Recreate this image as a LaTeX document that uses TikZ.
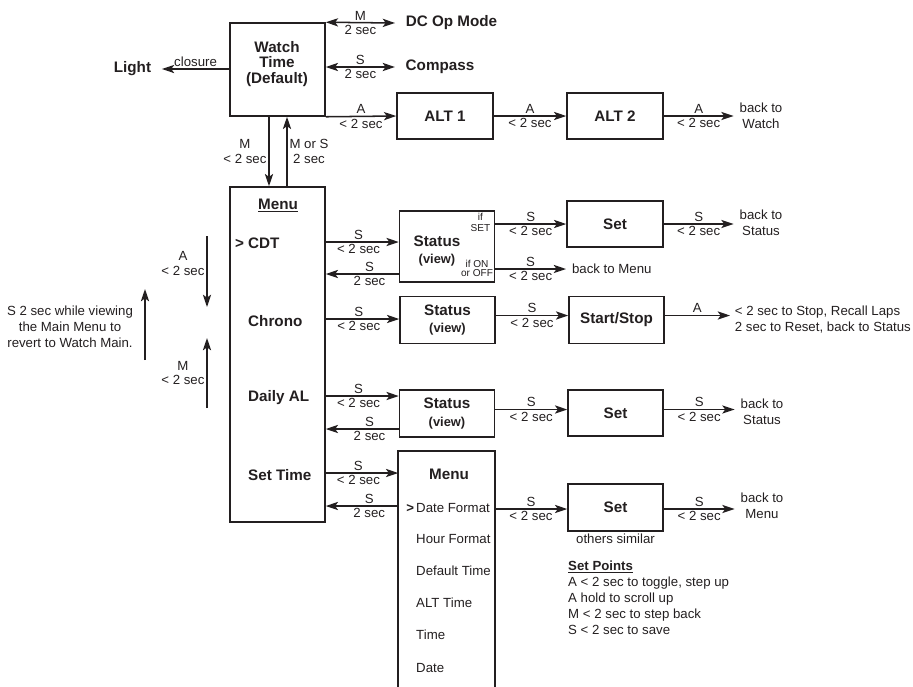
\documentclass[tikz,border=0pt]{standalone}
\usepackage{fontspec}
\setmainfont{Liberation Sans}
\usetikzlibrary{arrows.meta}
\definecolor{ink}{RGB}{35,31,32}
\newcommand\labfont{\fontsize{11.3}{12.8}\selectfont}
\newcommand\bodyfont{\fontsize{11.3}{13.6}\selectfont}
\newcommand\boldfont{\fontsize{13}{15.3}\selectfont\bfseries}
\newcommand\viewfont{\fontsize{11}{15.3}\selectfont\bfseries}
\newcommand\notefont{\fontsize{8.6}{9}\selectfont}
\tikzset{
  box/.style={draw=ink, line width=1.3pt, minimum width=2.85cm, minimum height=1.41cm, inner sep=0pt, align=center, font=\boldfont, text=ink},
  arrow/.style={-{Stealth[length=10.5pt,width=7pt,inset=2.5pt]}, line width=1.3pt, draw=ink},
  twoway/.style={{Stealth[length=10.5pt,width=7pt,inset=2.5pt]}-{Stealth[length=10.5pt,width=7pt,inset=2.5pt]}, line width=1.3pt, draw=ink},
  lbl/.style={font=\labfont, text=ink, inner sep=1.5pt},
  txt/.style={font=\bodyfont, text=ink, align=center, inner ysep=1pt, inner xsep=5pt},
  head/.style={font=\boldfont, text=ink, inner sep=0pt},
  item/.style={font=\bodyfont, text=ink, anchor=west, inner sep=0pt},
  note/.style={font=\notefont, text=ink, align=center, inner sep=0pt}
}

\begin{document}
\begin{tikzpicture}[x=0.03cm,y=-0.03cm]
\useasboundingbox (0,0) rectangle (913,686);

\node[box, minimum height=2.79cm] (watch) at (277.5,69.5) {};
\node[head, align=center, font=\fontsize{13}{13.6}\selectfont\bfseries] (watchtxt) at (277,64) {Watch\\Time\\(Default)};
\node[box, minimum width=2.88cm, minimum height=1.38cm] (alt1) at (445,116) {ALT 1};
\node[box, minimum width=2.88cm, minimum height=1.38cm] (alt2) at (615,116) {ALT 2};
\node[head, inner xsep=9pt] (light) at (132.5,69) {Light};
\node[head, inner xsep=9pt] (dcop) at (451.5,23) {DC Op Mode};
\node[head, inner xsep=9pt] (compass) at (440,67) {Compass};
\node[txt] (backw) at (761,116) {back to\\Watch};

\draw[arrow] (watch.west |- light) -- node[lbl,above]{closure} (light.east);
\draw[twoway] (watch.north east) -- node[lbl,above]{M} node[lbl,below]{2 sec} (dcop.west);
\draw[twoway] (watch.east |- compass) -- node[lbl,above]{S} node[lbl,below]{2 sec} (compass.west);
\draw[arrow] (watch.south east) -- node[lbl,above]{A} node[lbl,below]{< 2 sec} (alt1.west);
\draw[arrow] (alt1) -- node[lbl,above]{A} node[lbl,below]{< 2 sec} (alt2);
\draw[arrow] (alt2) -- node[lbl,above]{A} node[lbl,below]{< 2 sec} (backw);

\node[box, minimum height=10.05cm] (menu) at (277.5,354.5) {};
\node[head] (menuhead) at (278,205) {\underline{Menu}};
\node[head, anchor=west] (cdt) at (248,243) {\llap{> }CDT};
\node[head, anchor=west] (chrono) at (248,321) {Chrono};
\node[head, anchor=west] (daily) at (248,398) {Daily AL};
\node[head, anchor=west] (settime) at (248,475) {Set Time};

\draw[arrow] ([xshift=-0.255cm]watch.south) -- node[lbl,left,align=center]{M\\< 2 sec} ([xshift=-0.255cm]menu.north);
\draw[arrow] ([xshift=0.285cm]menu.north) -- node[lbl,right,align=center]{M or S\\2 sec} ([xshift=0.285cm]watch.south);

\coordinate (adn1) at (207,236);
\coordinate (adn2) at (207,307);
\coordinate (mup1) at (207,408);
\coordinate (mup2) at (207,338);
\coordinate (rev1) at (145,360);
\coordinate (rev2) at (145,289);
\draw[arrow] (adn1) -- node[lbl,left,align=center,pos=0.39]{A\\< 2 sec} (adn2);
\draw[arrow] (mup1) -- node[lbl,left,align=center]{M\\< 2 sec} (mup2);
\draw[arrow] (rev1) -- (rev2);
\node[txt] (revert) at (70,327) {S 2 sec while viewing\\the Main Menu to\\revert to Watch Main.};

\coordinate (cdtin) at (0,242);
\coordinate (cdtout) at (0,274);
\coordinate (cdtset) at (0,224);
\coordinate (cdtmenu) at (0,269);
\coordinate (chrin) at (0,319);
\coordinate (chrout) at (0,315.5);
\coordinate (dalin) at (0,396);
\coordinate (dalout) at (0,429);
\coordinate (dalset) at (0,409.5);
\coordinate (stin) at (0,473);
\coordinate (stout) at (0,506);
\coordinate (stset) at (0,509);

\node[box, minimum height=2.13cm] (stcdt) at (447,246.5) {};
\node[head, align=center] (stcdttxt) at (437,251) {Status\\{\viewfont(view)}};
\node[note] (ifset) at (480.5,222.5) {if\\[1pt]SET};
\node[note] (ifon) at (477,268.5) {if ON\\[-1.5pt]or OFF};
\node[box, minimum width=2.88cm, minimum height=1.38cm] (setcdt) at (615,224) {Set};
\node[txt] (backs1) at (761,222.5) {back to\\Status};
\node[txt, anchor=west] (backm1) at (566,269) {back to Menu};

\draw[arrow] (menu.east |- cdtin) -- node[lbl,above,pos=0.45]{S} node[lbl,below,pos=0.45]{< 2 sec} (stcdt.west |- cdtin);
\draw[arrow] (stcdt.west |- cdtout) -- node[lbl,above,pos=0.4]{S} node[lbl,below,pos=0.4]{2 sec} (menu.east |- cdtout);
\draw[arrow] (stcdt.east |- cdtset) -- node[lbl,above]{S} node[lbl,below]{< 2 sec} (setcdt.west |- cdtset);
\draw[arrow] (setcdt.east |- cdtset) -- node[lbl,above]{S} node[lbl,below]{< 2 sec} (backs1.west |- cdtset);
\draw[arrow] (stcdt.east |- cdtmenu) -- node[lbl,above]{S} node[lbl,below]{< 2 sec} (backm1.west |- cdtmenu);

\node[box] (stchr) at (447.5,320) {Status\\{\viewfont(view)}};
\node[box] (startstop) at (616.5,320) {Start/Stop};
\node[txt, align=left, anchor=west, inner xsep=4pt] (chrnote) at (730,319.5) {< 2 sec to Stop, Recall Laps\\2 sec to Reset, back to Status};

\draw[arrow] (menu.east |- chrin) -- node[lbl,above,pos=0.45]{S} node[lbl,below,pos=0.45]{< 2 sec} (stchr.west |- chrin);
\draw[arrow] (stchr.east |- chrout) -- node[lbl,above]{S} node[lbl,below]{< 2 sec} (startstop.west |- chrout);
\draw[arrow] (startstop.east |- chrout) -- node[lbl,above]{A} (chrnote.west |- chrout);

\node[box] (stdal) at (447,413.5) {Status\\{\viewfont(view)}};
\node[box, minimum height=1.38cm] (setdal) at (615.5,413) {Set};
\node[txt] (backs2) at (762,411.5) {back to\\Status};

\draw[arrow] (menu.east |- dalin) -- node[lbl,above,pos=0.45]{S} node[lbl,below,pos=0.45]{< 2 sec} (stdal.west |- dalin);
\draw[arrow] (stdal.west |- dalout) -- node[lbl,above,pos=0.4]{S} node[lbl,below,pos=0.4]{2 sec} (menu.east |- dalout);
\draw[arrow] (stdal.east |- dalset) -- node[lbl,above]{S} node[lbl,below]{< 2 sec} (setdal.west |- dalset);
\draw[arrow] (setdal.east |- dalset) -- node[lbl,above]{S} node[lbl,below]{< 2 sec} (backs2.west |- dalset);

\node[box, draw=none, minimum height=7.02cm] (sub) at (446.5,569) {};
\draw[ink, line width=1.3pt] (sub.south west) |- (sub.north east) -- (sub.south east);
\node[head] (subhead) at (449,474) {Menu};
\node[item] (datef) at (416,508) {\llap{\textbf{>}\,}Date Format};
\node[item] (hourf) at (416,539) {Hour Format};
\node[item] (deft) at (416,571) {Default Time};
\node[item] (altt) at (416,603) {ALT Time};
\node[item] (timei) at (416,635) {Time};
\node[item] (datei) at (416,668) {Date};
\node[box] (setsm) at (615.5,507.5) {Set};
\node[lbl, anchor=north] (others) at (setsm.south) {others similar};
\node[txt] (backm2) at (762,506) {back to\\Menu};
\node[txt, align=left, anchor=north west, inner sep=0pt] (setpts) at (568,561) {\underline{\textbf{Set Points}}\\A < 2 sec to toggle, step up\\A hold to scroll up\\M < 2 sec to step back\\S < 2 sec to save};

\draw[arrow] (menu.east |- stin) -- node[lbl,above,pos=0.45]{S} node[lbl,below,pos=0.45]{< 2 sec} (sub.west |- stin);
\draw[arrow] (sub.west |- stout) -- node[lbl,above,pos=0.4]{S} node[lbl,below,pos=0.4]{2 sec} (menu.east |- stout);
\draw[arrow] (sub.east |- stset) -- node[lbl,above]{S} node[lbl,below]{< 2 sec} (setsm.west |- stset);
\draw[arrow] (setsm.east |- stset) -- node[lbl,above]{S} node[lbl,below]{< 2 sec} (backm2.west |- stset);
\end{tikzpicture}
\end{document}
